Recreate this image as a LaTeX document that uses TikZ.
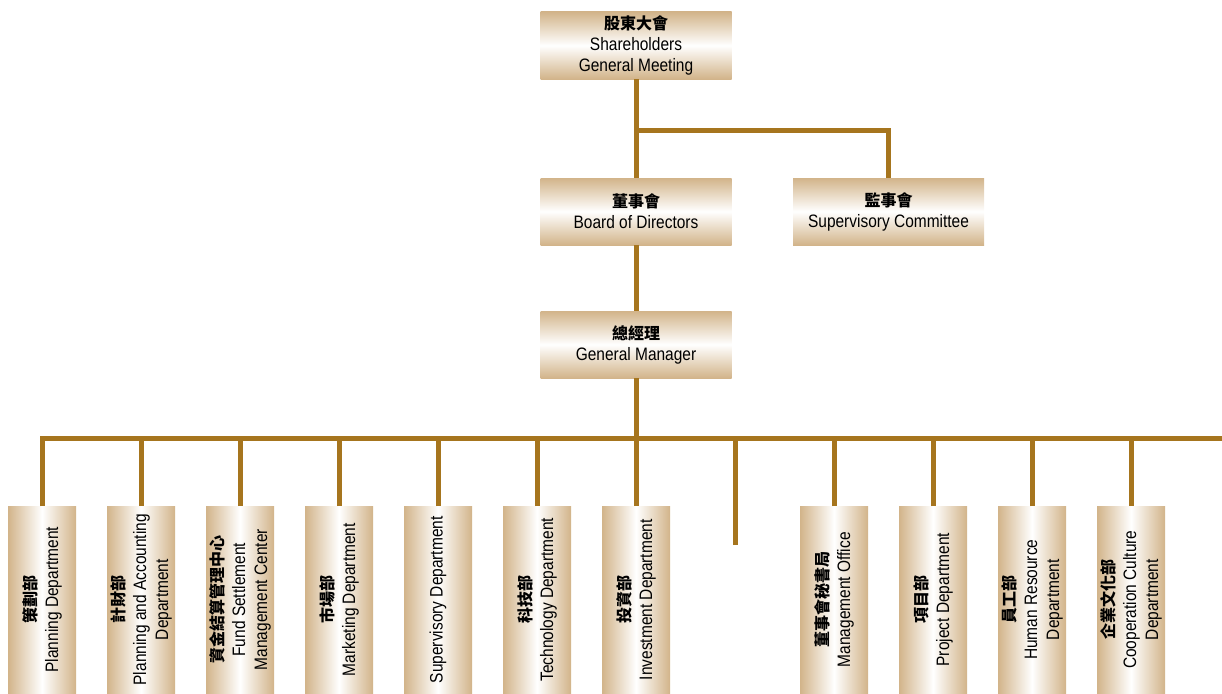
\documentclass[tikz,border=0pt]{standalone}
\usepackage{fontspec}
\setmainfont{Liberation Sans}[FakeStretch=0.86]
\newfontfamily\cjk{Noto Sans CJK TC}
\definecolor{boxtan}{RGB}{210,180,138}
\definecolor{linegold}{RGB}{166,117,30}
\newcommand{\zh}[1]{{\cjk\bfseries\fontsize{16}{21}\selectfont #1}}
\begin{document}
\begin{tikzpicture}[x=1pt,y=-1pt,
  topbox/.style={minimum width=191pt, minimum height=67pt, inner sep=0pt,
    top color=boxtan, bottom color=boxtan, middle color=white,
    align=center, font=\fontsize{18}{21}\selectfont},
  dept/.style={rotate=90, anchor=east, minimum width=187pt, minimum height=68pt, inner sep=0pt,
    left color=boxtan, right color=boxtan, middle color=white,
    align=center, font=\fontsize{18}{22}\selectfont},
  conn/.style={draw=linegold, line width=5pt}]
\useasboundingbox (0,0) rectangle (1222,693);

\node[topbox] (sh) at (636,45.5) {\zh{股東大會}\\Shareholders\\General Meeting};
\node[topbox] (bd) at (636,211.5) {\zh{董事會}\\Board of Directors};
\node[topbox] (sc) at (888.5,211.5) {\zh{監事會}\\Supervisory Committee};
\node[topbox] (gm) at (636,344.5) {\zh{總經理}\\General Manager};

\node[dept] (d1) at (42,506) {\zh{策劃部}\\Planning Department};
\node[dept] (d2) at (141,506) {\zh{計財部}\\Planning and Accounting\\Department};
\node[dept] (d3) at (240,506) {\zh{資金結算管理中心}\\Fund Settlement\\Management Center};
\node[dept] (d4) at (339,506) {\zh{市場部}\\Marketing Department};
\node[dept] (d5) at (438,506) {Supervisory Department};
\node[dept] (d6) at (537,506) {\zh{科技部}\\Technology Department};
\node[dept] (d7) at (636,506) {\zh{投資部}\\Investment Department};
\coordinate (blank) at (735,545);
\node[dept] (d9) at (834,506) {\zh{董事會秘書局}\\Management Office};
\node[dept] (d10) at (933,506) {\zh{項目部}\\Project Department};
\node[dept] (d11) at (1032,506) {\zh{員工部}\\Human Resource\\Department};
\node[dept] (d12) at (1131,506) {\zh{企業文化部}\\Cooperation Culture\\Department};

\coordinate (j1) at (636,130);
\coordinate (barR) at (1222,438);

\draw[conn] (sh.south) -- (bd.north);
\draw[conn] (j1) -| (sc.north);
\draw[conn] (bd.south) -- (gm.north);
\draw[conn] (gm.south) -- (d7.east);
\draw[conn] (d1.east) |- (barR);
\draw[conn] (blank) -- (blank |- barR);
\foreach \n in {d2,d3,d4,d5,d6,d9,d10,d11,d12}
  \draw[conn] (\n.east) -- (\n.east |- barR);
\end{tikzpicture}
\end{document}
